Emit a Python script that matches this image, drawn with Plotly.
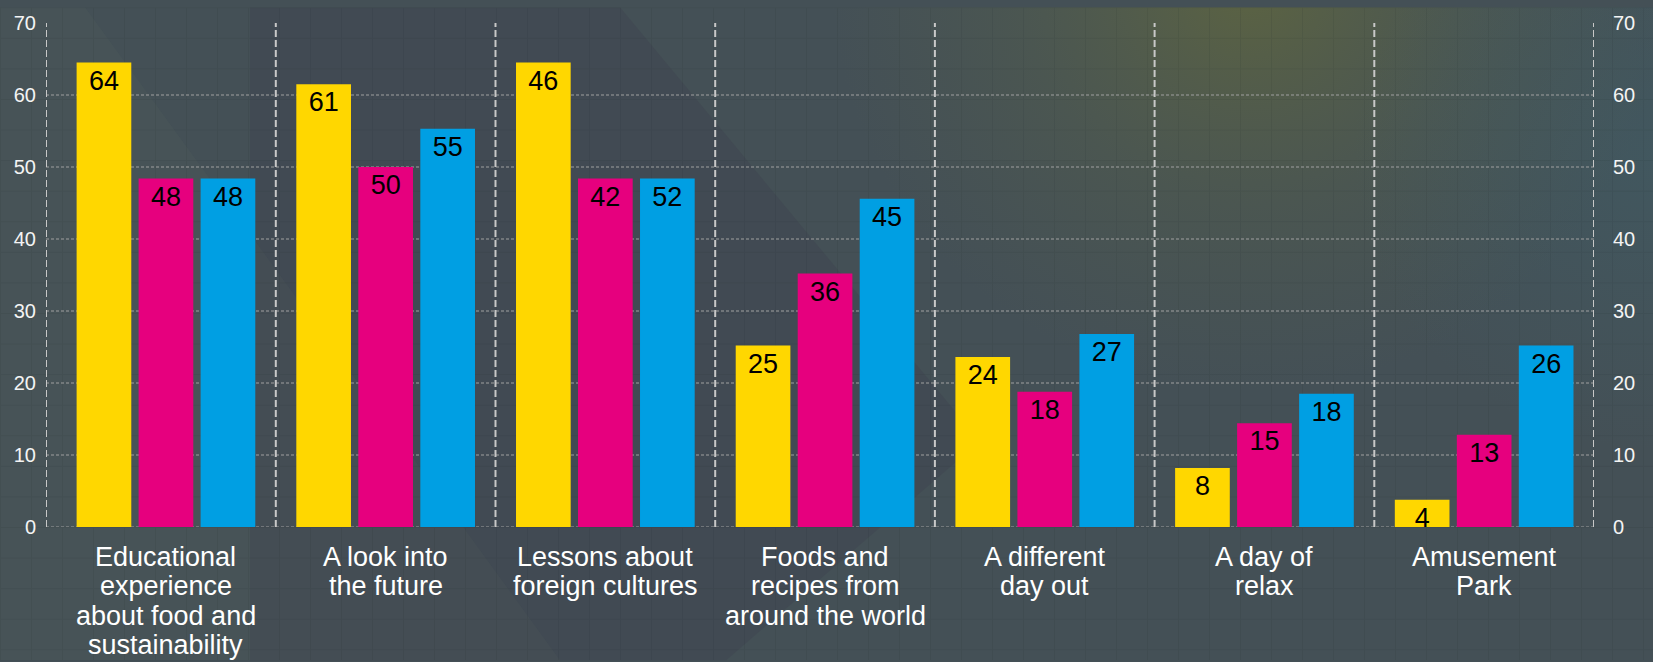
import base64
import plotly.graph_objects as go

# ---------------- data ----------------
cat_lines = [
    ["Educational", "experience", "about food and", "sustainability"],
    ["A look into", "the future"],
    ["Lessons about", "foreign cultures"],
    ["Foods and", "recipes from", "around the world"],
    ["A different", "day out"],
    ["A day of", "relax"],
    ["Amusement", "Park"],
]
categories = [" ".join(l) for l in cat_lines]

yellow_values = [64.5, 61.5, 64.5, 25.2, 23.6, 8.2, 3.8]
magenta_values = [48.4, 50.0, 48.4, 35.2, 18.8, 14.4, 12.8]
blue_values = [48.4, 55.3, 48.4, 45.6, 26.8, 18.5, 25.2]

yellow_labels = [64, 61, 46, 25, 24, 8, 4]
magenta_labels = [48, 50, 42, 36, 18, 15, 13]
blue_labels = [48, 55, 52, 45, 27, 18, 26]

y_ticks = [0, 10, 20, 30, 40, 50, 60, 70]
grid_values = [0, 10, 20, 30, 40, 50, 60]

# ---------------- style ----------------
W, H = 1653, 662
ML, MR, MT, MB = 46, 59, 16, 135
FONT = "Liberation Sans, Arial, sans-serif"
YELLOW, MAGENTA, BLUE = "#FFD700", "#E6007E", "#009FE3"

svg = f'''<svg xmlns="http://www.w3.org/2000/svg" width="{W}" height="{H}" viewBox="0 0 {W} {H}">
<defs>
<radialGradient id="glow" cx="1250" cy="-30" r="420" gradientUnits="userSpaceOnUse">
<stop offset="0" stop-color="rgb(108,112,52)" stop-opacity="0.6"/>
<stop offset="0.55" stop-color="rgb(95,104,66)" stop-opacity="0.25"/>
<stop offset="1" stop-color="rgb(90,100,70)" stop-opacity="0"/>
</radialGradient>
<radialGradient id="teal" cx="1653" cy="150" r="300" gradientUnits="userSpaceOnUse">
<stop offset="0" stop-color="rgb(62,98,108)" stop-opacity="0.4"/>
<stop offset="1" stop-color="rgb(62,98,108)" stop-opacity="0"/>
</radialGradient>
<pattern id="grid" width="31" height="31" patternUnits="userSpaceOnUse">
<path d="M31 0 L0 0 0 31" fill="none" stroke="rgba(20,30,30,0.09)" stroke-width="2"/>
</pattern>
</defs>
<rect width="{W}" height="{H}" fill="rgb(68,80,86)"/>
<polygon points="0,0 85,0 560,662 0,662" fill="rgba(95,110,100,0.13)"/>
<polygon points="250,0 620,0 980,440 660,720 250,720" fill="rgba(55,52,70,0.18)"/>
<rect width="{W}" height="{H}" fill="url(#glow)"/>
<rect width="{W}" height="{H}" fill="url(#teal)"/>
<rect width="{W}" height="{H}" fill="url(#grid)"/>
</svg>'''
bg_uri = "data:image/svg+xml;base64," + base64.b64encode(svg.encode()).decode()

pw = W - ML - MR
ph = H - MT - MB
slot_px = 219.7
x_right = len(categories) - 0.5
x_left = x_right - pw / slot_px

fig = go.Figure()
for vals, labs, col in [(yellow_values, yellow_labels, YELLOW),
                        (magenta_values, magenta_labels, MAGENTA),
                        (blue_values, blue_labels, BLUE)]:
    fig.add_trace(go.Bar(
        x=categories, y=vals, text=[str(v) for v in labs],
        marker=dict(color=col, line=dict(width=0)),
        textposition="inside", insidetextanchor="end", textangle=0,
        constraintext="none",
        textfont=dict(family=FONT, size=27, color="black"),
        hoverinfo="skip", showlegend=False,
    ))

# invisible trace so the right-hand axis is drawn
fig.add_trace(go.Scatter(x=[categories[0]], y=[None], yaxis="y2",
                         mode="markers", showlegend=False, hoverinfo="skip"))

shapes = []
for g in grid_values:
    shapes.append(dict(type="line", xref="paper", x0=0, x1=1, yref="y", y0=g, y1=g,
                       line=dict(color="#a0a0a0", width=1, dash="3px,2px"), layer="below"))
for xb in [x_left] + [i + 0.5 for i in range(len(categories))]:
    shapes.append(dict(type="line", xref="x", x0=xb, x1=xb, yref="y", y0=0, y1=70,
                       line=dict(color="#c8c8c8", width=2, dash="7px,3px"), layer="below"))

annotations = []
for cat, lines in zip(categories, cat_lines):
    for j, line in enumerate(lines):
        annotations.append(dict(
            x=cat, xref="x", y=0, yref="paper", yanchor="top", xanchor="center",
            yshift=-12.6 - 29.6 * j, text=line, showarrow=False,
            font=dict(family=FONT, size=27, color="#ffffff")))

fig.update_layout(
    width=W, height=H,
    margin=dict(l=ML, r=MR, t=MT, b=MB, pad=0),
    paper_bgcolor="rgb(68,80,86)", plot_bgcolor="rgba(0,0,0,0)",
    barmode="group", bargap=0.1534, bargroupgap=0.118,
    showlegend=False,
    xaxis=dict(type="category", range=[x_left, x_right], showticklabels=False,
               showgrid=False, zeroline=False, showline=False, ticks=""),
    yaxis=dict(range=[0, 70], tickvals=y_ticks, showgrid=False, zeroline=False,
               showline=False, ticks="", ticklabelstandoff=9,
               tickfont=dict(family=FONT, size=20, color="#f4f4f4")),
    yaxis2=dict(range=[0, 70], tickvals=y_ticks, overlaying="y", side="right",
                showgrid=False, zeroline=False, showline=False, ticks="",
                ticklabelstandoff=18,
                tickfont=dict(family=FONT, size=20, color="#f4f4f4")),
    shapes=shapes, annotations=annotations,
    images=[dict(source=bg_uri, xref="paper", yref="paper",
                 x=-ML / pw, y=1 + MT / ph, sizex=W / pw, sizey=H / ph,
                 xanchor="left", yanchor="top", sizing="stretch", layer="below")],
)

fig.write_html("out.html")
